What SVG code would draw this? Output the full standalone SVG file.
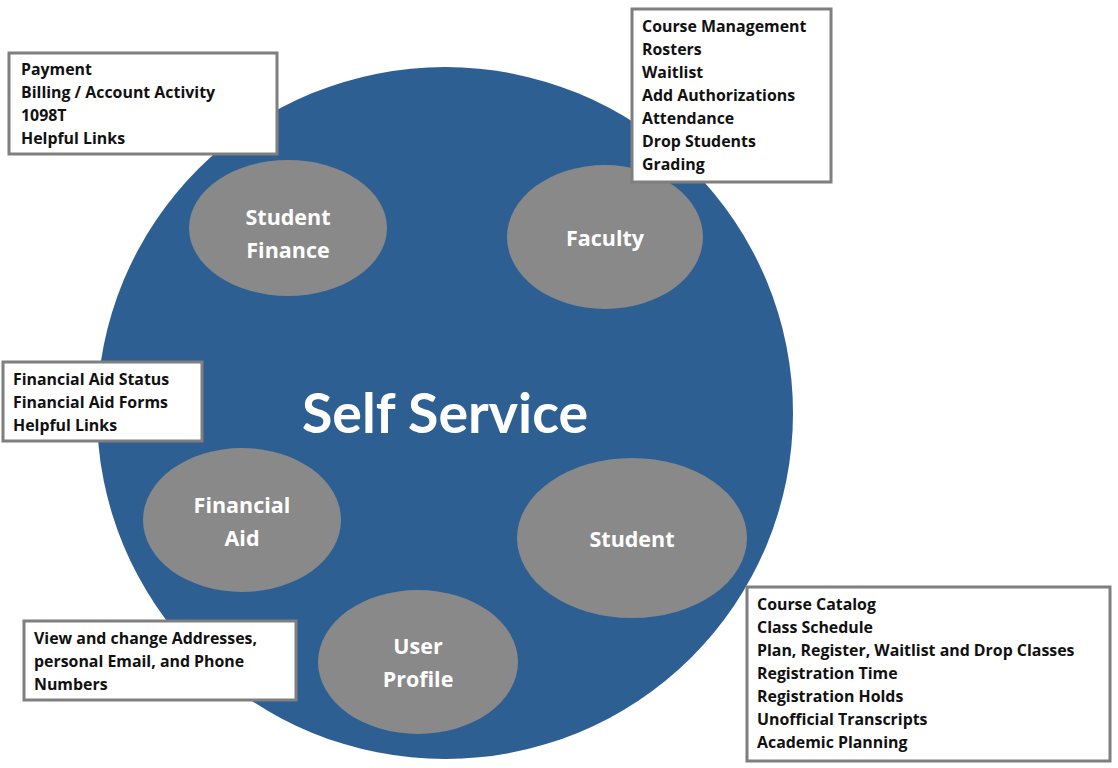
<svg xmlns="http://www.w3.org/2000/svg" width="1118" height="768" viewBox="0 0 1118 768">
<style>
.hub{fill:#2E5F92}
.oval{fill:#898989}
.ot{font-family:"Open Sans","Liberation Sans",sans-serif;font-weight:bold;font-size:21.5px;fill:#ffffff;text-anchor:middle}
.box{fill:#ffffff;stroke:#7f7f7f;stroke-width:3}
.bt{font-family:"Open Sans","Liberation Sans",sans-serif;font-weight:bold;font-size:15.9px;fill:#111111}
.title{font-family:Lato,"Liberation Sans",sans-serif;font-weight:bold;font-size:55.5px;fill:#ffffff;text-anchor:middle}
</style>
<rect width="1118" height="768" fill="#ffffff"/>
<g id="self-service">
<ellipse class="hub" cx="445" cy="413" rx="348" ry="346"/>
<text class="title" x="445" y="433">Self Service</text>
</g>
<g id="student-finance">
<ellipse class="oval" cx="288" cy="228" rx="99" ry="68"/>
<text class="ot" x="288" y="225">Student</text>
<text class="ot" x="288" y="258">Finance</text>
</g>
<g id="faculty">
<ellipse class="oval" cx="605" cy="237" rx="98" ry="72"/>
<text class="ot" x="605" y="246">Faculty</text>
</g>
<g id="financial-aid">
<ellipse class="oval" cx="242" cy="520" rx="99" ry="72"/>
<text class="ot" x="242" y="513">Financial</text>
<text class="ot" x="242" y="546">Aid</text>
</g>
<g id="student">
<ellipse class="oval" cx="632" cy="538" rx="115" ry="80"/>
<text class="ot" x="632" y="547">Student</text>
</g>
<g id="user-profile">
<ellipse class="oval" cx="418" cy="662" rx="100" ry="72"/>
<text class="ot" x="418" y="654">User</text>
<text class="ot" x="418" y="687">Profile</text>
</g>
<g id="finance-box">
<rect class="box" x="9" y="53" width="268" height="101"/>
<text class="bt" x="21" y="75">Payment</text>
<text class="bt" x="21" y="98">Billing / Account Activity</text>
<text class="bt" x="21" y="121">1098T</text>
<text class="bt" x="21" y="144">Helpful Links</text>
</g>
<g id="faculty-box">
<rect class="box" x="632" y="9" width="199" height="173"/>
<text class="bt" x="642" y="32">Course Management</text>
<text class="bt" x="642" y="55">Rosters</text>
<text class="bt" x="642" y="78">Waitlist</text>
<text class="bt" x="642" y="101">Add Authorizations</text>
<text class="bt" x="642" y="124">Attendance</text>
<text class="bt" x="642" y="147">Drop Students</text>
<text class="bt" x="642" y="170">Grading</text>
</g>
<g id="aid-box">
<rect class="box" x="3" y="362" width="199" height="79"/>
<text class="bt" x="13" y="385">Financial Aid Status</text>
<text class="bt" x="13" y="408">Financial Aid Forms</text>
<text class="bt" x="13" y="431">Helpful Links</text>
</g>
<g id="profile-box">
<rect class="box" x="24" y="621" width="272" height="79"/>
<text class="bt" x="34" y="644">View and change Addresses,</text>
<text class="bt" x="34" y="667">personal Email, and Phone</text>
<text class="bt" x="34" y="690">Numbers</text>
</g>
<g id="student-box">
<rect class="box" x="747" y="587" width="363" height="174"/>
<text class="bt" x="757" y="610">Course Catalog</text>
<text class="bt" x="757" y="633">Class Schedule</text>
<text class="bt" x="757" y="656">Plan, Register, Waitlist and Drop Classes</text>
<text class="bt" x="757" y="679">Registration Time</text>
<text class="bt" x="757" y="702">Registration Holds</text>
<text class="bt" x="757" y="725">Unofficial Transcripts</text>
<text class="bt" x="757" y="748">Academic Planning</text>
</g>
</svg>
